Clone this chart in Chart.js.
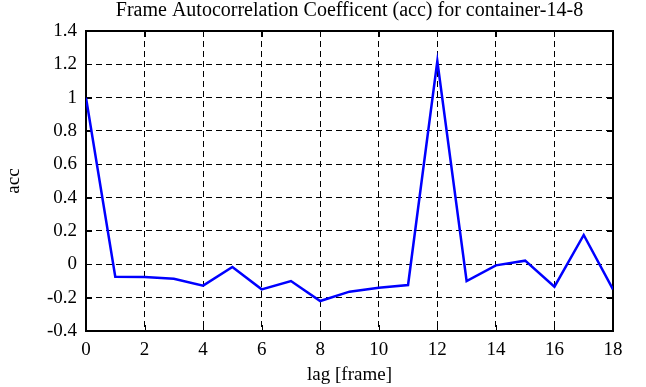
<!DOCTYPE html>
<html>
<head>
<meta charset="utf-8">
<script src="https://cdn.jsdelivr.net/npm/chart.js@4/dist/chart.umd.min.js"></script>
<style>
  body { margin: 0; background: #fff; }
  #wrap { width: 646px; height: 387px; }
</style>
</head>
<body>
<div id="wrap"><canvas id="accChart"></canvas></div>
<script>
// values
const lags = [0, 1, 2, 3, 4, 5, 6, 7, 8, 9, 10, 11, 12, 13, 14, 15, 16, 17, 18];
const accValues = [1.0, -0.074, -0.076, -0.086, -0.128, -0.016, -0.15, -0.1, -0.22, -0.164,
                   -0.14, -0.124, 1.22, -0.1, -0.006, 0.022, -0.134, 0.176, -0.15];

// tick labels
const xTicks = [0, 2, 4, 6, 8, 10, 12, 14, 16, 18];
const yTicks = [-0.4, -0.2, 0, 0.2, 0.4, 0.6, 0.8, 1, 1.2, 1.4];

const serif = 'Liberation Serif, Times New Roman, serif';
Chart.defaults.font.family = serif;
Chart.defaults.color = '#000';

// box round the plot plus the small inward tick marks on all four sides
const framePlugin = {
  id: 'frame',
  beforeDatasetsDraw(chart) {
    const { ctx, chartArea: a, scales } = chart;
    const len = 6;
    ctx.save();
    ctx.strokeStyle = '#000';
    ctx.lineWidth = 1;
    ctx.setLineDash([]);
    ctx.beginPath();
    xTicks.forEach(v => {
      const px = Math.round(scales.x.getPixelForValue(v)) + 0.5;
      ctx.moveTo(px, a.bottom); ctx.lineTo(px, a.bottom - len);
      ctx.moveTo(px, a.top); ctx.lineTo(px, a.top + len);
    });
    yTicks.forEach(v => {
      const py = Math.round(scales.y.getPixelForValue(v)) + 0.5;
      ctx.moveTo(a.left, py); ctx.lineTo(a.left + len, py);
      ctx.moveTo(a.right, py); ctx.lineTo(a.right - len, py);
    });
    ctx.stroke();
    ctx.lineWidth = 2;
    ctx.strokeRect(a.left, a.top, a.right - a.left, a.bottom - a.top);
    ctx.restore();
  }
};

const ctx = document.getElementById('accChart').getContext('2d');

const data = {
  datasets: [{
    label: 'acc',
    data: lags.map((l, i) => ({ x: l, y: accValues[i] })),
    borderColor: '#0000ff',
    backgroundColor: '#0000ff',
    borderWidth: 2.5,
    pointRadius: 0,
    tension: 0
  }]
};

const config = {
  type: 'line',
  data: data,
  plugins: [framePlugin],
  options: {
    responsive: true,
    maintainAspectRatio: false,
    animation: false,
    layout: { padding: { left: 0, right: 33, top: 0, bottom: 0 } },
    plugins: {
      legend: { display: false },
      tooltip: { enabled: false },
      title: {
        display: true,
        text: 'Frame Autocorrelation Coefficent (acc) for container-14-8',
        fullSize: false,
        color: '#000',
        font: { family: serif, size: 20, weight: 'normal', lineHeight: 1 },
        padding: { top: 1, bottom: 10 }
      }
    },
    scales: {
      x: {
        type: 'linear',
        min: 0,
        max: 18,
        afterBuildTicks: s => { s.ticks = xTicks.map(v => ({ value: v })); },
        afterFit: s => { s.height = 56; },
        grid: { color: '#000', lineWidth: 1, drawTicks: false },
        border: { display: false, dash: [6, 4] },
        ticks: { font: { size: 19 }, padding: 8, maxRotation: 0 },
        title: { display: true, text: 'lag [frame]', font: { size: 19 }, padding: { top: 0, bottom: 1 } }
      },
      y: {
        min: -0.4,
        max: 1.4,
        afterBuildTicks: s => { s.ticks = yTicks.map(v => ({ value: v })); },
        afterFit: s => { s.width = 86; },
        grid: { color: '#000', lineWidth: 1, drawTicks: false },
        border: { display: false, dash: [6, 4] },
        ticks: { font: { size: 19 }, padding: 9, callback: v => String(+v.toFixed(1)) },
        title: { display: true, text: 'acc', font: { size: 19 }, padding: { top: 3, bottom: 0 } }
      }
    }
  }
};

const accChart = new Chart(ctx, config);
</script>
</body>
</html>
